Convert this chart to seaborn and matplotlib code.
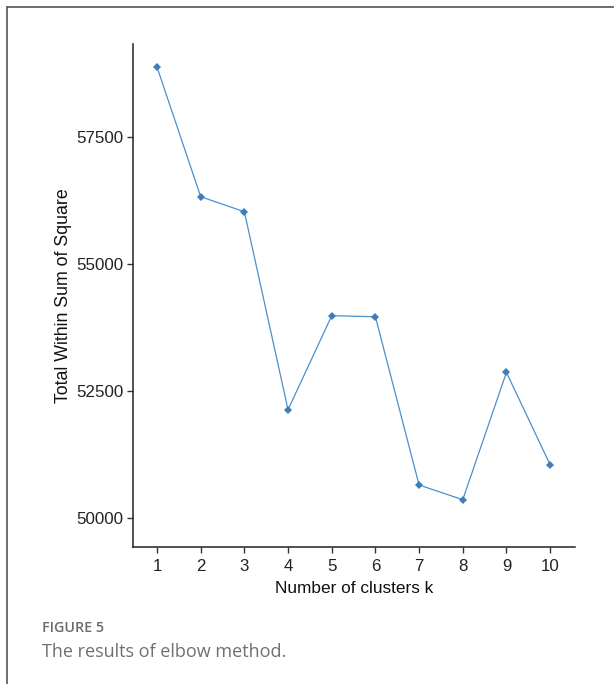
import matplotlib
matplotlib.use("Agg")
import matplotlib.pyplot as plt
import matplotlib.lines as mlines
import seaborn as sns
import pandas as pd

clusters = [1, 2, 3, 4, 5, 6, 7, 8, 9, 10]
wss = [58867, 56320, 56025, 52137, 53983, 53963, 50658, 50369, 52869, 51057]
y_ticks = [50000, 52500, 55000, 57500]
x_label = "Number of clusters k"
y_label = "Total Within Sum of Square"
fig_label = "FIGURE 5"
caption = "The results of elbow method."

df = pd.DataFrame({"k": clusters, "wss": wss})

sns.set_theme(style="ticks")
plt.rcParams["font.family"] = ["Liberation Sans", "DejaVu Sans"]

fig = plt.figure(figsize=(6.14, 6.84), dpi=100)
ax = fig.add_axes([133 / 614, 1 - 547 / 684, (575 - 133) / 614, (547 - 44) / 684])

sns.lineplot(data=df, x="k", y="wss", ax=ax, color="#4f8fc8", linewidth=0.9,
             marker="D", markersize=4.5, markeredgewidth=0,
             markerfacecolor="#3f7db8", markeredgecolor="#3f7db8")

ax.set_xlim(0.45, 10.57)
ax.set_ylim(49440, 59320)
ax.set_xticks(clusters)
ax.set_yticks(y_ticks)
ax.set_xticklabels([str(c) for c in clusters])
ax.set_yticklabels([str(t) for t in y_ticks])
ax.tick_params(axis="both", labelsize=12.2, colors="#333333", length=4, width=1.0,
               direction="out", pad=3)
ax.tick_params(axis="x", pad=4.5)
for lab in ax.get_xticklabels() + ax.get_yticklabels():
    lab.set_color("#222222")
ax.set_xlabel(x_label, fontsize=12.4, color="#111111", labelpad=5.5)
ax.set_ylabel(y_label, fontsize=12.8, color="#111111", labelpad=3)
for side in ["top", "right"]:
    ax.spines[side].set_visible(False)
for side in ["left", "bottom"]:
    ax.spines[side].set_color("#222222")
    ax.spines[side].set_linewidth(1.1)

# frame lines of the figure panel
fig.add_artist(mlines.Line2D([7 / 614, 1.0], [1 - 7 / 684, 1 - 7 / 684],
                             transform=fig.transFigure, color="#555555", linewidth=1.2))
fig.add_artist(mlines.Line2D([7 / 614, 7 / 614], [0.0, 1 - 7 / 684],
                             transform=fig.transFigure, color="#555555", linewidth=1.2))

fig.text(42 / 614, 1 - 628 / 684, fig_label, fontsize=10.3, color="#6b6b6b",
         family=["Open Sans", "DejaVu Sans"], fontweight="semibold", va="center", ha="left")
fig.text(42 / 614, 1 - 652 / 684, caption, fontsize=13, color="#707070",
         family=["Open Sans", "DejaVu Sans"], va="center", ha="left")

fig.savefig("out.png", dpi=100)
